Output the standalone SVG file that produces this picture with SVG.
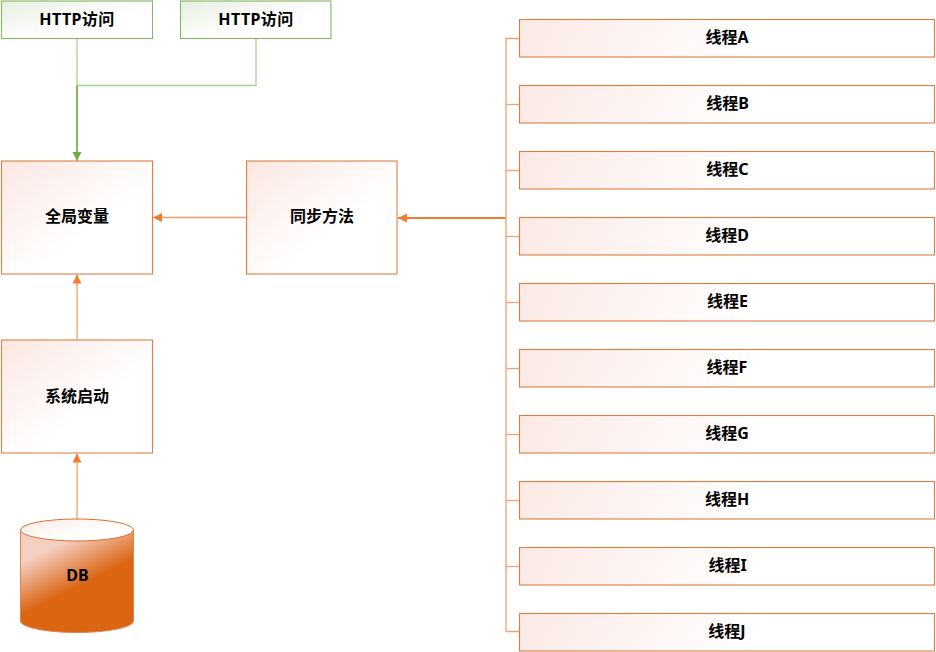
<svg xmlns="http://www.w3.org/2000/svg" width="936" height="652" viewBox="0 0 936 652">
<style>
text{font:bold 16px "Noto Sans","Noto Sans CJK SC",sans-serif;text-anchor:middle;fill:#000}
.http{letter-spacing:.4px}
.o{fill:url(#og);stroke:#dd8048;stroke-width:1.1}
.t{fill:url(#ot);stroke:#dc7c42;stroke-width:1.1}
.g{fill:url(#gg);stroke:#86b566;stroke-width:1.1}
.lo{fill:none;stroke:#f3a06a;stroke-width:1.3}
.loh{fill:none;stroke:#ed7d31;stroke-width:2}
.lg{fill:none;stroke:#a9d18e;stroke-width:1.3}
.lgh{fill:none;stroke:#84b962;stroke-width:2}
</style>
<defs>
<linearGradient id="og" x1="0" y1="0" x2="1" y2="1"><stop offset="0" stop-color="#fbe7e1"/><stop offset=".6" stop-color="#fff"/></linearGradient>
<!-- thread boxes are placed by transform, so this gradient follows each one -->
<linearGradient id="ot" gradientUnits="userSpaceOnUse" x1="0" y1="0" x2="190" y2="110"><stop offset="0" stop-color="#fbe9e4"/><stop offset="1" stop-color="#fff"/></linearGradient>
<linearGradient id="gg" x1="0" y1="0" x2="1" y2="1"><stop offset="0" stop-color="#e6efe0"/><stop offset=".6" stop-color="#fff"/></linearGradient>
<linearGradient id="cyl" gradientUnits="userSpaceOnUse" x1="20" y1="563" x2="41" y2="605"><stop offset="0" stop-color="#f4d0c4"/><stop offset="1" stop-color="#db6513"/></linearGradient>
<linearGradient id="cap" x1="0" y1="0" x2="1" y2="1"><stop offset="0" stop-color="#fbeae4"/><stop offset=".6" stop-color="#fff"/></linearGradient>
<marker id="ao" markerUnits="userSpaceOnUse" markerWidth="10" markerHeight="10" refX="9" refY="5" orient="auto"><path d="M0 0.500L9 5L0 9.500z" fill="#ed7d31"/></marker>
<marker id="ag" markerUnits="userSpaceOnUse" markerWidth="10" markerHeight="10" refX="9" refY="5" orient="auto"><path d="M0 0.500L9 5L0 9.500z" fill="#70ad47"/></marker>
</defs>

<g id="connectors">
<path class="lg" d="M77 38.500V85.500"/>
<path class="lg" d="M256 38.500V85.500H77"/>
<path class="lgh" d="M77 85.500V161" marker-end="url(#ag)"/>
<path class="lo" d="M246.500 217.500H153" marker-end="url(#ao)"/>
<path class="lo" d="M77 340V274.500" marker-end="url(#ao)"/>
<path class="lo" d="M77 519V453.500" marker-end="url(#ao)"/>
<path class="loh" d="M506 218H398" marker-end="url(#ao)"/>
<path class="lo" d="M506 218V38.500H519"/>
<path class="lo" d="M506 104.500H519"/>
<path class="lo" d="M506 170.500H519"/>
<path class="lo" d="M506 218V631.500H519"/>
<path class="lo" d="M506 236.500H519"/>
<path class="lo" d="M506 302.500H519"/>
<path class="lo" d="M506 368.500H519"/>
<path class="lo" d="M506 434.500H519"/>
<path class="lo" d="M506 500.500H519"/>
<path class="lo" d="M506 566.500H519"/>
</g>

<g id="http1"><rect class="g" x="1.500" y="1" width="151" height="37.500"/><text class="http" x="77" y="25">HTTP访问</text></g>
<g id="http2"><rect class="g" x="180.500" y="1" width="150.500" height="37.500"/><text class="http" x="256" y="25">HTTP访问</text></g>
<g id="global"><rect class="o" x="1.500" y="161" width="151" height="113"/><text x="77" y="222">全局变量</text></g>
<g id="sync"><rect class="o" x="246.500" y="161" width="150.500" height="113"/><text x="322" y="222">同步方法</text></g>
<g id="boot"><rect class="o" x="1.500" y="340" width="151" height="113"/><text x="77" y="402">系统启动</text></g>
<g id="db">
<path d="M20.500 530V621C20.500 627 45 632.500 77 632.500S133.500 627 133.500 621V530z" fill="url(#cyl)" stroke="#e0854a"/>
<ellipse cx="77" cy="530" rx="56.500" ry="11" fill="url(#cap)" stroke="#d9722e"/>
<text x="77.500" y="581">DB</text>
</g>

<g id="threadA"><rect class="t" transform="translate(519.500 19.500)" width="415" height="37.500"/><text x="727" y="43">线程A</text></g>
<g id="threadB"><rect class="t" transform="translate(519.500 85.500)" width="415" height="37.500"/><text x="727.500" y="109">线程B</text></g>
<g id="threadC"><rect class="t" transform="translate(519.500 151.500)" width="415" height="37.500"/><text x="727.500" y="175">线程C</text></g>
<g id="threadD"><rect class="t" transform="translate(519.500 217.500)" width="415" height="37.500"/><text x="727" y="241">线程D</text></g>
<g id="threadE"><rect class="t" transform="translate(519.500 283.500)" width="415" height="37.500"/><text x="727.500" y="307">线程E</text></g>
<g id="threadF"><rect class="t" transform="translate(519.500 349.500)" width="415" height="37.500"/><text x="727" y="373">线程F</text></g>
<g id="threadG"><rect class="t" transform="translate(519.500 415.500)" width="415" height="37.500"/><text x="727" y="439">线程G</text></g>
<g id="threadH"><rect class="t" transform="translate(519.500 481.500)" width="415" height="37.500"/><text x="727" y="505">线程H</text></g>
<g id="threadI"><rect class="t" transform="translate(519.500 547.500)" width="415" height="37.500"/><text x="727.500" y="571">线程I</text></g>
<g id="threadJ"><rect class="t" transform="translate(519.500 613.500)" width="415" height="37.500"/><text x="727" y="637">线程J</text></g>
</svg>
